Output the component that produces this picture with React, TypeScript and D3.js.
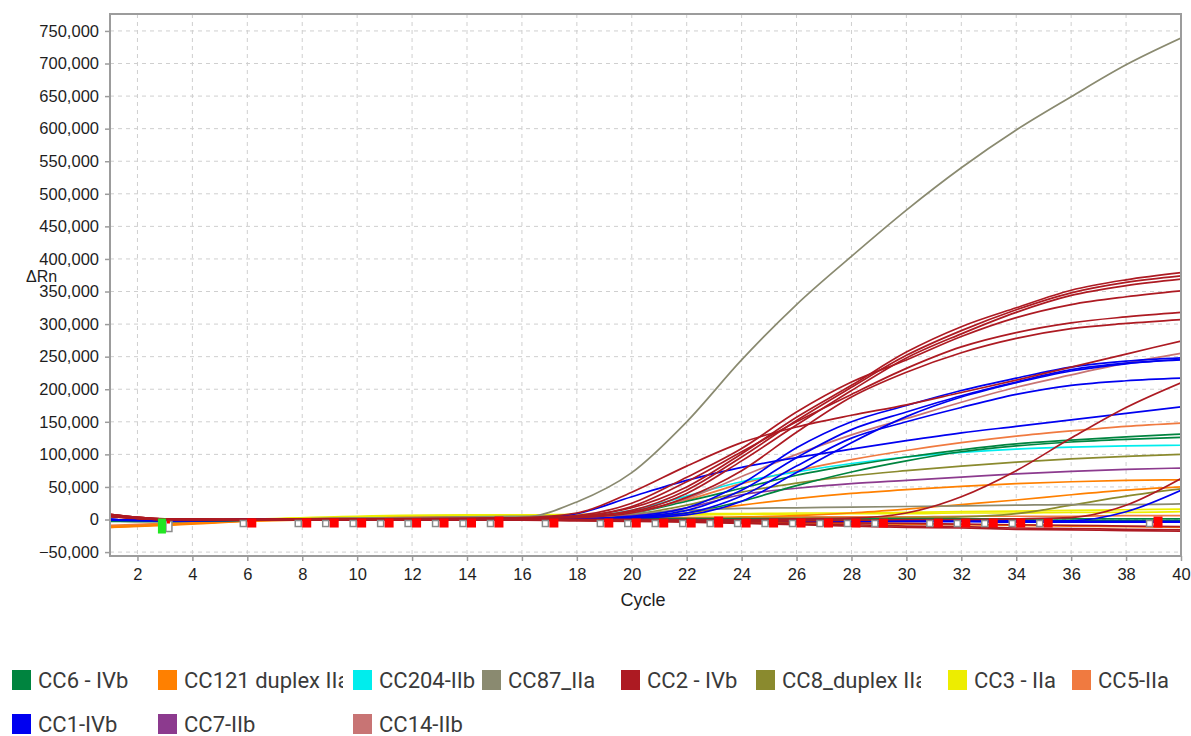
import React, { useEffect, useRef } from "react";
import * as d3 from "d3";

// cycles at which each amplification curve is sampled (values below are ΔRn in thousands)
const cycles = [1, 3, 6, 10, 14, 16, 18, 20, 22, 24, 26, 28, 30, 32, 34, 36, 38, 40];

const cc3Curves = [
  [-10, -7, 0, 5, 7, 7, 8, 8, 9, 9, 10, 10, 11, 12, 13, 14, 15, 16],
  [-11, -8, -1, 4, 6, 6, 6, 7, 7, 8, 8, 9, 9, 10, 10, 11, 11, 12],
];
const cc5Curves = [
  [-2, -3, 0, 2, 3, 3, 4, 12, 30, 55, 75, 92, 106, 118, 128, 136, 143, 148],
  [-9, -6, -1, 2, 3, 3, 3, 3, 3, 3, 4, 4, 4, 5, 5, 5, 6, 6],
];
const cc121Curves = [
  [-12, -8, -2, 2, 4, 4, 4, 5, 10, 22, 32, 40, 46, 51, 55, 58, 60, 61],
  [-11, -8, -2, 2, 3, 3, 3, 3, 3, 4, 6, 10, 16, 23, 30, 38, 45, 50],
  [-12, -9, -3, 0, 0, 0, -1, -2, -3, -4, -5, -6, -7, -8, -9, -10, -11, -12],
];
const cc8Curves = [
  [-1, -1, 0, 2, 3, 3, 4, 8, 22, 42, 56, 67, 75, 82, 88, 93, 97, 100],
  [-1, -2, 0, 1, 2, 2, 2, 2, 2, 2, 2, 2, 3, 4, 9, 22, 36, 47],
];
const cc7Curves = [
  [0, -1, 0, 1, 2, 2, 3, 6, 18, 38, 48, 55, 60, 65, 70, 74, 77, 79],
];
const cc204Curves = [
  [0, -1, 0, 1, 2, 2, 4, 14, 36, 58, 73, 86, 96, 103, 108, 111, 113, 114],
];
const cc6Curves = [
  [-1, -2, -1, 0, 1, 2, 4, 10, 28, 48, 68, 83, 96, 107, 116, 122, 127, 131],
  [-1, -2, -1, 0, 1, 1, 2, 4, 10, 28, 52, 73, 90, 104, 113, 119, 123, 126],
  [-2, -3, -1, 0, 1, 1, 1, 1, 1, 1, 1, 1, 1, 1, 1, 1, 1, 1],
  [-3, -3, -1, 0, 0, 0, 0, 0, 0, -1, -1, -1, -1, -1, -1, -2, -2, -2],
];
const cc14Curves = [
  [0, -1, 0, 1, 1, 1, 2, 10, 32, 66, 100, 130, 155, 180, 203, 222, 240, 255],
];
const cc87Curves = [
  [0, -1, 0, 1, 2, 3, 27, 72, 150, 245, 330, 404, 475, 540, 598, 649, 698, 739],
  [0, -1, 0, 2, 4, 5, 6, 9, 14, 17, 18, 19, 20, 21, 22, 23, 23, 24],
];
const cc1Curves = [
  [0, -1, 0, 1, 1, 1, 1, 5, 18, 55, 110, 150, 175, 198, 217, 234, 243, 248],
  [0, -1, 0, 1, 1, 1, 1, 4, 14, 45, 95, 138, 165, 190, 211, 230, 240, 245],
  [0, -1, 0, 1, 1, 1, 1, 2, 7, 28, 72, 118, 158, 188, 210, 228, 239, 246],
  [0, -1, 0, 1, 1, 1, 1, 3, 10, 36, 82, 125, 150, 172, 192, 206, 213, 217],
  [0, -1, 0, 1, 1, 1, 9, 35, 60, 80, 95, 108, 121, 133, 143, 153, 163, 173],
  [0, -1, 0, 0, 0, 0, 0, 0, -1, -2, -2, -3, -3, -3, -3, -2, 12, 45],
  [0, -2, -1, 0, 0, 0, 0, -1, -1, -2, -2, -3, -3, -3, -4, -4, -4, -4],
  [-1, -2, -1, 0, 0, 0, 0, 0, -1, -1, -1, -2, -2, -2, -2, -3, -3, -3],
];
const cc2Curves = [
  [8, 1, 0, 1, 1, 2, 5, 18, 50, 101, 157, 206, 257, 296, 325, 352, 368, 379],
  [6, 0, 0, 1, 1, 2, 4, 14, 45, 96, 152, 203, 252, 290, 322, 348, 364, 374],
  [4, 0, 0, 1, 1, 2, 4, 12, 40, 90, 145, 198, 248, 285, 318, 344, 359, 369],
  [7, 1, 0, 1, 1, 2, 6, 25, 65, 109, 165, 211, 245, 281, 310, 330, 342, 351],
  [5, 0, 0, 1, 1, 2, 5, 20, 58, 104, 150, 192, 232, 265, 287, 302, 311, 318],
  [6, 0, 0, 0, 1, 2, 3, 10, 34, 75, 134, 188, 226, 256, 278, 293, 301, 307],
  [8, 1, 0, 1, 2, 3, 10, 42, 82, 118, 142, 160, 176, 195, 214, 234, 254, 274],
  [5, 0, -1, 0, 0, 0, 0, 0, 0, 0, 1, 2, 10, 35, 75, 125, 172, 210],
  [6, 0, -1, 0, 0, 0, 0, 0, -1, -1, -1, -1, 0, 0, 1, 3, 22, 63],
  [7, 0, -1, -1, -1, -1, -1, -2, -3, -5, -7, -8, -10, -11, -13, -14, -15, -16],
  [8, 1, 0, 0, -1, -1, -2, -3, -4, -6, -8, -10, -12, -13, -15, -16, -17, -18],
  [5, 0, 0, 0, 0, 0, -1, -1, -2, -3, -4, -5, -6, -7, -8, -9, -10, -11],
];

// legend targets, in legend order
const targetNames = [
  "CC6 - IVb", "CC121 duplex IIa", "CC204-IIb", "CC87_IIa", "CC2 - IVb",
  "CC8_duplex IIa", "CC3 - IIa", "CC5-IIa", "CC1-IVb", "CC7-IIb", "CC14-IIb",
];
const targetColors = [
  "#00843f", "#ff8000", "#00eded", "#8a8a70", "#ad1a22",
  "#8a8a2e", "#eded00", "#f07a40", "#0000f0", "#8c3a8e", "#c87474",
];
// drawing order (bottom to top)
const drawOrder: [string, number[][]][] = [
  ["CC3 - IIa", cc3Curves],
  ["CC5-IIa", cc5Curves],
  ["CC121 duplex IIa", cc121Curves],
  ["CC8_duplex IIa", cc8Curves],
  ["CC7-IIb", cc7Curves],
  ["CC204-IIb", cc204Curves],
  ["CC6 - IVb", cc6Curves],
  ["CC14-IIb", cc14Curves],
  ["CC87_IIa", cc87Curves],
  ["CC1-IVb", cc1Curves],
  ["CC2 - IVb", cc2Curves],
];

// threshold markers along the baseline
const markerCycles = [6, 8, 9, 10, 11, 12, 13, 14, 15, 17, 19, 20, 21, 22, 23, 24, 25, 26, 27, 28, 29, 31, 32, 33, 34, 35, 39];
const bigMarkers = [15, 23, 39];
const startMarkerCycle = 3;

const yTicks = d3.range(-50000, 750001, 50000);
const xTicks = d3.range(2, 41, 2);

const App = () => {
  const svgRef = useRef<SVGSVGElement>(null);

  useEffect(() => {
    const svg = d3.select(svgRef.current);
    svg.selectAll("*").remove();

    const left = 110, right = 1181, top = 14, bottom = 556;
    const x = d3.scaleLinear().domain([1, 40]).range([left, right]);
    const y = d3.scaleLinear().domain([-56000, 776000]).range([bottom, top]);
    const tickFont = "'Liberation Sans', Arial, sans-serif";

    // grid
    const grid = svg.append("g");
    grid.selectAll(".hg")
      .data(yTicks)
      .enter()
      .append("line")
      .attr("x1", left).attr("x2", right)
      .attr("y1", (d) => y(d)).attr("y2", (d) => y(d))
      .attr("stroke", "#cfcfcf").attr("stroke-dasharray", "4,4");
    grid.selectAll(".vg")
      .data(xTicks)
      .enter()
      .append("line")
      .attr("x1", (d) => x(d)).attr("x2", (d) => x(d))
      .attr("y1", top).attr("y2", bottom)
      .attr("stroke", "#cfcfcf").attr("stroke-dasharray", "4,4");

    // curves
    svg.append("clipPath").attr("id", "plot-clip")
      .append("rect").attr("x", left).attr("y", top).attr("width", right - left).attr("height", bottom - top);
    const line = d3.line<number>()
      .x((_, i) => x(cycles[i]))
      .y((d) => y(d * 1000))
      .curve(d3.curveMonotoneX);
    const plot = svg.append("g").attr("clip-path", "url(#plot-clip)");
    drawOrder.forEach(([name, curves]) => {
      const color = targetColors[targetNames.indexOf(name)];
      plot.append("g")
        .selectAll("path")
        .data(curves)
        .enter()
        .append("path")
        .attr("d", (d) => line(d))
        .attr("fill", "none")
        .attr("stroke", color)
        .attr("stroke-width", 1.7);
    });

    // baseline markers
    const y0 = y(0);
    const mk = svg.append("g");
    markerCycles.forEach((c) => {
      const big = bigMarkers.includes(c);
      mk.append("rect")
        .attr("x", x(c) - 7).attr("y", y0 + 1)
        .attr("width", 6).attr("height", 6)
        .attr("fill", "white").attr("stroke", "#8a8a8a").attr("stroke-width", 1.5);
      mk.append("rect")
        .attr("x", x(c)).attr("y", big ? y0 - 3 : y0 - 1)
        .attr("width", 9).attr("height", big ? 11 : 9)
        .attr("fill", "#ff0000");
    });
    mk.append("rect")
      .attr("x", x(startMarkerCycle) + 1).attr("y", y0 + 2)
      .attr("width", 6).attr("height", 10)
      .attr("fill", "white").attr("stroke", "#8a8a8a").attr("stroke-width", 1.5);
    mk.append("rect")
      .attr("x", x(startMarkerCycle) - 7).attr("y", y0 - 1)
      .attr("width", 8).attr("height", 15)
      .attr("fill", "#22e622");
    mk.append("rect")
      .attr("x", x(startMarkerCycle) + 2).attr("y", y0 + 1)
      .attr("width", 3).attr("height", 3)
      .attr("fill", "#ff0000");

    // frame
    svg.append("rect")
      .attr("x", left).attr("y", top)
      .attr("width", right - left).attr("height", bottom - top)
      .attr("fill", "none").attr("stroke", "#9c9c9c").attr("stroke-width", 2);

    // axes
    const yAxis = svg.append("g")
      .attr("transform", `translate(${left},0)`)
      .call(d3.axisLeft(y).tickValues(yTicks).tickSize(5).tickPadding(6).tickFormat((d) => d3.format(",")(d as number)));
    const xAxis = svg.append("g")
      .attr("transform", `translate(0,${bottom})`)
      .call(d3.axisBottom(x).tickValues(xTicks).tickSize(5).tickPadding(7));
    [yAxis, xAxis].forEach((g) => {
      g.select(".domain").remove();
      g.selectAll(".tick line").attr("stroke", "#9c9c9c").attr("stroke-width", 1.5);
      g.selectAll(".tick text")
        .attr("fill", "#1e1e1e")
        .style("font-family", tickFont)
        .style("font-size", "16.5px");
    });

    svg.append("text")
      .attr("x", 643).attr("y", 606)
      .attr("text-anchor", "middle")
      .style("font-family", tickFont).style("font-size", "18px")
      .attr("fill", "#1e1e1e")
      .text("Cycle");
    svg.append("text")
      .attr("x", 26).attr("y", 282)
      .style("font-family", tickFont).style("font-size", "16px")
      .attr("fill", "#1e1e1e")
      .text("ΔRn");

    // legend
    const legendX = [12, 158, 353, 482, 621, 756, 948, 1072, 12, 158, 353];
    const legendRow = [0, 0, 0, 0, 0, 0, 0, 0, 1, 1, 1];
    const legendClip: (number | null)[] = [null, 160, null, null, null, 140, null, null, null, null, null];
    const legend = svg.append("g");
    targetNames.forEach((name, i) => {
      const lx = legendX[i];
      const ly = 670 + legendRow[i] * 44;
      const item = legend.append("g");
      item.append("rect")
        .attr("x", lx).attr("y", ly)
        .attr("width", 19).attr("height", 20)
        .attr("fill", targetColors[i]);
      const clip = legendClip[i];
      if (clip !== null) {
        svg.append("clipPath").attr("id", `lg-clip-${i}`)
          .append("rect").attr("x", lx + 25).attr("y", ly - 8).attr("width", clip).attr("height", 36);
      }
      item.append("g")
        .attr("clip-path", clip !== null ? `url(#lg-clip-${i})` : null)
        .append("text")
        .attr("x", lx + 26).attr("y", ly + 18)
        .style("font-family", "Roboto, sans-serif").style("font-size", "22px")
        .attr("fill", "#3a3a3a")
        .text(name);
    });
  }, []);

  return (
    <svg
      ref={svgRef}
      width={1191}
      height={736}
      style={{ position: "absolute", left: 0, top: 0, background: "white" }}
    ></svg>
  );
};

export default App;
